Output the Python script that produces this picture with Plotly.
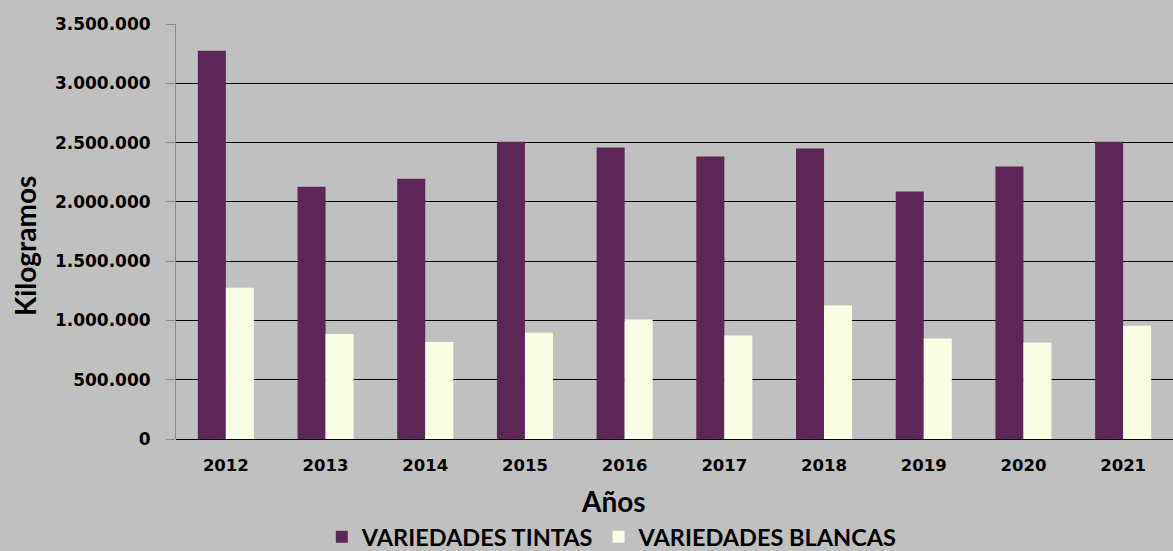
import plotly.graph_objects as go

# Producción anual por tipo de variedad (kg)
anios = ["2012", "2013", "2014", "2015", "2016", "2017", "2018", "2019", "2020", "2021"]
tintas = [3275000, 2127000, 2194000, 2507000, 2458000, 2383000, 2450000, 2087000, 2298000, 2507000]
blancas = [1275000, 886000, 819000, 897000, 1007000, 872000, 1125000, 847000, 813000, 956000]
y_ticks = [0, 500000, 1000000, 1500000, 2000000, 2500000, 3000000, 3500000]
y_tick_text = ["0", "500.000", "1.000.000", "1.500.000", "2.000.000", "2.500.000", "3.000.000", "3.500.000"]

COLOR_TINTAS = "#5c2656"
COLOR_BLANCAS = "#f8fde4"
FONDO = "#c0c0c0"
TICK_FONT = dict(family="DejaVu Sans", size=17, color="black", weight="bold")
TITLE_FONT = dict(family="Lato", size=28, color="black", weight="bold")

# plot area in pixels (used to place the axis titles in paper coordinates)
W, H = 1173, 551
L, R, T, B = 176, 0, 24, 112
PW, PH = W - L - R, H - T - B

fig = go.Figure()
fig.add_trace(go.Bar(x=anios, y=tintas, name="VARIEDADES TINTAS",
                     marker=dict(color=COLOR_TINTAS, line=dict(width=0))))
fig.add_trace(go.Bar(x=anios, y=blancas, name="VARIEDADES BLANCAS",
                     marker=dict(color=COLOR_BLANCAS, line=dict(width=0))))

fig.update_layout(
    width=W, height=H,
    margin=dict(l=L, r=R, t=T, b=B),
    paper_bgcolor=FONDO, plot_bgcolor=FONDO,
    barmode="group", bargap=0.438, bargroupgap=0,
    showlegend=True,
    legend=dict(orientation="h", xref="container", yref="container",
                x=0.522, xanchor="center", y=1 - 537 / H, yanchor="middle",
                font=dict(family="Lato", size=23.5, color="black", weight="bold"),
                bgcolor="rgba(0,0,0,0)", itemclick=False, traceorder="normal"),
    xaxis=dict(showgrid=False, showline=False, ticks="", zeroline=False,
               tickfont=dict(family="DejaVu Sans", size=16.5, color="black", weight="bold"),
               ticklabelstandoff=14),
    yaxis=dict(range=[0, 3500000], tickvals=y_ticks, ticktext=y_tick_text,
               showgrid=True, gridcolor="black", gridwidth=1,
               zeroline=True, zerolinecolor="black", zerolinewidth=1,
               showline=True, linecolor="#8a8a8a", linewidth=1,
               ticks="outside", ticklen=9, tickcolor="#8a8a8a",
               tickfont=TICK_FONT, ticklabelstandoff=12),
    annotations=[
        dict(text="Años", xref="paper", yref="paper", x=(613 - L) / PW,
             y=(H - B - 501) / PH, xanchor="center", yanchor="middle",
             showarrow=False, font=TITLE_FONT),
        dict(text="Kilogramos", xref="paper", yref="paper", x=(25 - L) / PW,
             y=(H - B - 246) / PH, xanchor="center", yanchor="middle",
             textangle=-90, showarrow=False, font=TITLE_FONT),
    ],
)

fig.write_html("out.html")
